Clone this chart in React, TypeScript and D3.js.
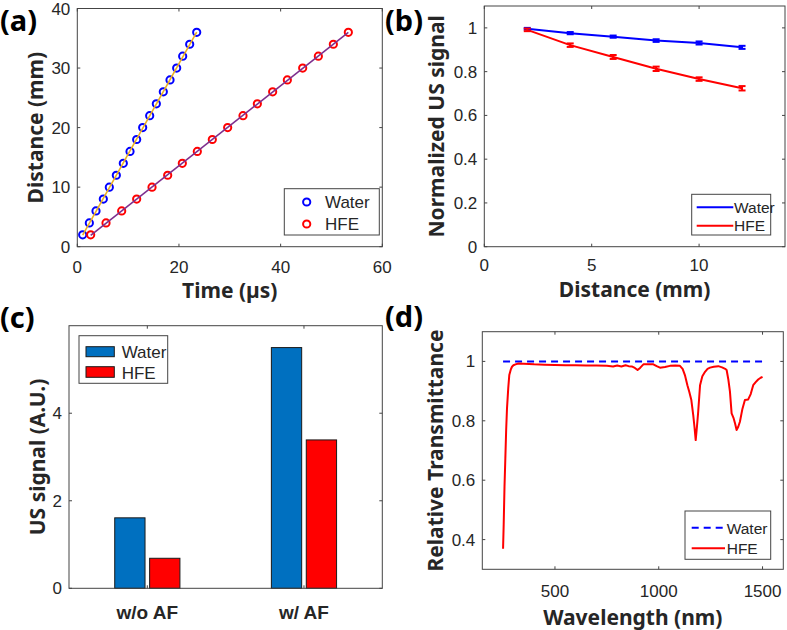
import React from "react";
import * as d3 from "d3";

// ---------- (a) time of flight ----------
const distA = [2, 4, 6, 8, 10, 12, 14, 16, 18, 20, 22, 24, 26, 28, 30, 32, 34, 36];
const waterTime = [1.06, 2.37, 3.68, 5.12, 6.3, 7.68, 9.05, 10.37, 11.68, 12.86, 14.24, 15.55, 16.92, 18.24, 19.55, 20.73, 22.11, 23.49];
const hfeTime = [2.63, 5.65, 8.73, 11.68, 14.7, 17.78, 20.66, 23.61, 26.56, 29.58, 32.6, 35.42, 38.43, 41.32, 44.34, 47.42, 50.37, 53.32];
const ticksAx = [0, 20, 40, 60];
const ticksAy = [0, 10, 20, 30, 40];

// ---------- (b) normalized signal ----------
const distB = [2, 4, 6, 8, 10, 12];
const waterNorm = [0.996, 0.976, 0.96, 0.942, 0.931, 0.911];
const waterErr = [0.004, 0.005, 0.005, 0.006, 0.007, 0.007];
const hfeNorm = [0.991, 0.921, 0.867, 0.813, 0.766, 0.724];
const hfeErr = [0.006, 0.008, 0.009, 0.01, 0.008, 0.01];
const ticksBx = [0, 5, 10];
const ticksBy = [0, 0.2, 0.4, 0.6, 0.8, 1];

// ---------- (c) bars ----------
const categoriesC = ["w/o AF", "w/ AF"];
const waterBar = [1.61, 5.5];
const hfeBar = [0.686, 3.39];
const ticksCy = [0, 2, 4];

// ---------- (d) transmittance ----------
const waterWl = [250, 1500];
const waterT = [1, 1];
const hfeSpectrum: [number, number][] = [
  [250, 0.369], [253, 0.45], [257, 0.58], [261, 0.674], [265, 0.77], [269, 0.842], [275, 0.91],
  [280, 0.954], [287, 0.972], [293, 0.982], [300, 0.987], [310, 0.99], [325, 0.993], [350, 0.992],
  [400, 0.99], [450, 0.989], [500, 0.988], [550, 0.987], [600, 0.987], [650, 0.986], [700, 0.986],
  [750, 0.985], [780, 0.983], [800, 0.986], [820, 0.983], [840, 0.987], [855, 0.984], [870, 0.983],
  [885, 0.978], [898, 0.971], [910, 0.978], [926, 0.99], [950, 0.99], [974, 0.99], [990, 0.984],
  [1006, 0.979], [1030, 0.981], [1054, 0.985], [1080, 0.986], [1102, 0.985], [1115, 0.975],
  [1126, 0.954], [1138, 0.92], [1147, 0.898], [1157, 0.87], [1166, 0.82], [1172, 0.78],
  [1178, 0.735], [1184, 0.78], [1190, 0.83], [1195, 0.88], [1199, 0.92], [1210, 0.95],
  [1223, 0.965], [1235, 0.975], [1247, 0.979], [1265, 0.982], [1287, 0.984], [1305, 0.98],
  [1320, 0.975], [1327, 0.971], [1335, 0.94], [1343, 0.898], [1351, 0.825], [1360, 0.81],
  [1368, 0.79], [1375, 0.769], [1383, 0.78], [1391, 0.797], [1403, 0.84], [1415, 0.87],
  [1423, 0.871], [1431, 0.872], [1443, 0.89], [1455, 0.92], [1467, 0.93], [1479, 0.939],
  [1491, 0.945], [1500, 0.948],
];
const ticksDx = [500, 1000, 1500];
const ticksDy = [0.4, 0.6, 0.8, 1];

const TICK_FONT = "'Liberation Sans', Arial, sans-serif";
const BOLD_FONT = "'Noto Sans', 'Liberation Sans', sans-serif";
const AX = "#444";
const TXT = "#262626";
const TICK_SIZE = 17;

type Box = { x0: number; x1: number; y0: number; y1: number };

function Frame({ b, xs, ys, xt, yt, fmtY, xOff = 25 }: { b: Box; xs: any; ys: any; xt: number[]; yt: number[]; fmtY?: (v: number) => string; xOff?: number }) {
  const tl = 3;
  return (
    <g>
      <rect x={b.x0} y={b.y0} width={b.x1 - b.x0} height={b.y1 - b.y0} fill="none" stroke={AX} strokeWidth={1} />
      {xt.map((t) => (
        <g key={"x" + t}>
          <line x1={xs(t)} x2={xs(t)} y1={b.y1} y2={b.y1 - tl} stroke={AX} />
          <line x1={xs(t)} x2={xs(t)} y1={b.y0} y2={b.y0 + tl} stroke={AX} />
          <text x={xs(t)} y={b.y1 + xOff} textAnchor="middle" fontFamily={TICK_FONT} fontSize={TICK_SIZE} fill={TXT}>{t}</text>
        </g>
      ))}
      {yt.map((t) => (
        <g key={"y" + t}>
          <line x1={b.x0} x2={b.x0 + tl} y1={ys(t)} y2={ys(t)} stroke={AX} />
          <line x1={b.x1} x2={b.x1 - tl} y1={ys(t)} y2={ys(t)} stroke={AX} />
          <text x={b.x0 - 7} y={ys(t) + 6} textAnchor="end" fontFamily={TICK_FONT} fontSize={TICK_SIZE} fill={TXT}>{fmtY ? fmtY(t) : t}</text>
        </g>
      ))}
    </g>
  );
}

function YLabel({ x, y, text }: { x: number; y: number; text: string }) {
  return (
    <text transform={`translate(${x},${y}) rotate(-90)`} textAnchor="middle" dominantBaseline="central" fontFamily={BOLD_FONT} fontWeight="bold" fontSize={21} fill={TXT}>{text}</text>
  );
}
function XLabel({ x, y, text }: { x: number; y: number; text: string }) {
  return (
    <text x={x} y={y} textAnchor="middle" fontFamily={BOLD_FONT} fontWeight="bold" fontSize={21} fill={TXT}>{text}</text>
  );
}
function PanelLabel({ x, y, text }: { x: number; y: number; text: string }) {
  return (
    <text x={x} y={y} fontFamily={BOLD_FONT} fontWeight="bold" fontSize={29} fill="#000">{text}</text>
  );
}

function fit(xs: number[], ys: number[]) {
  const mx = d3.mean(xs)!, my = d3.mean(ys)!;
  let num = 0, den = 0;
  xs.forEach((x, i) => { num += (x - mx) * (ys[i] - my); den += (x - mx) * (x - mx); });
  const k = num / den;
  return (x: number) => my + k * (x - mx);
}

export default function App() {
  // panel a
  const bA: Box = { x0: 77.3, x1: 382.3, y0: 8.5, y1: 246.7 };
  const xA = d3.scaleLinear().domain([0, 60]).range([bA.x0, bA.x1]);
  const yA = d3.scaleLinear().domain([0, 40]).range([bA.y1, bA.y0]);
  const fW = fit(waterTime, distA);
  const fH = fit(hfeTime, distA);
  const tW = d3.extent(waterTime) as [number, number];
  const tH = d3.extent(hfeTime) as [number, number];

  // panel b
  const bB: Box = { x0: 484.3, x1: 785, y0: 6, y1: 246.7 };
  const xB = d3.scaleLinear().domain([0, 14]).range([bB.x0, bB.x1]);
  const yB = d3.scaleLinear().domain([0, 1.1]).range([bB.y1, bB.y0]);
  const lineB = d3.line<number>().x((_, i) => xB(distB[i]));

  // panel c
  const bC: Box = { x0: 69, x1: 382.3, y0: 325.7, y1: 588.3 };
  const xC = d3.scaleLinear().domain([0.5, 2.5]).range([bC.x0, bC.x1]);
  const yC = d3.scaleLinear().domain([0, 6]).range([bC.y1, bC.y0]);
  const barW = 30.3, gap = 4.6;

  // panel d
  const bD: Box = { x0: 482.3, x1: 783.3, y0: 331.7, y1: 569.3 };
  const xD = d3.scaleLinear().domain([150, 1600]).range([bD.x0, bD.x1]);
  const yD = d3.scaleLinear().domain([0.3, 1.1]).range([bD.y1, bD.y0]);
  const lineD = d3.line<[number, number]>().x((d) => xD(d[0])).y((d) => yD(d[1]));

  const fmt1 = (v: number) => (v === 0 || v === 1 ? String(v) : v.toFixed(1));

  return (
    <svg width={787} height={630} style={{ position: "absolute", left: 0, top: 0, background: "#fff" }}>
      <rect width={787} height={630} fill="#fff" />
      {/* ---- (a) ---- */}
      <Frame b={bA} xs={xA} ys={yA} xt={ticksAx} yt={ticksAy} xOff={26} />
      {distA.map((d, i) => (
        <circle key={"wa" + i} cx={xA(waterTime[i])} cy={yA(d)} r={3.6} fill="none" stroke="#0000ff" strokeWidth={2} />
      ))}
      {distA.map((d, i) => (
        <circle key={"ha" + i} cx={xA(hfeTime[i])} cy={yA(d)} r={3.6} fill="none" stroke="#ff0000" strokeWidth={2} />
      ))}
      <line x1={xA(tW[0])} y1={yA(fW(tW[0]))} x2={xA(tW[1])} y2={yA(fW(tW[1]))} stroke="#EDB120" strokeWidth={1.6} />
      <line x1={xA(tH[0])} y1={yA(fH(tH[0]))} x2={xA(tH[1])} y2={yA(fH(tH[1]))} stroke="#7E2F8E" strokeWidth={1.6} />
      <rect x={284.3} y={188.7} width={95} height={46.3} fill="#fff" stroke={AX} />
      <circle cx={306.7} cy={202} r={3.6} fill="none" stroke="#0000ff" strokeWidth={2} />
      <circle cx={306.7} cy={224} r={3.6} fill="none" stroke="#ff0000" strokeWidth={2} />
      <text x={325} y={208} fontFamily={TICK_FONT} fontSize={17} fill={TXT}>Water</text>
      <text x={325} y={230} fontFamily={TICK_FONT} fontSize={17} fill={TXT}>HFE</text>
      <XLabel x={(bA.x0 + bA.x1) / 2} y={298} text="Time (µs)" />
      <YLabel x={35} y={(bA.y0 + bA.y1) / 2} text="Distance (mm)" />
      <PanelLabel x={0} y={31} text="(a)" />

      {/* ---- (b) ---- */}
      <Frame b={bB} xs={xB} ys={yB} xt={ticksBx} yt={ticksBy} fmtY={fmt1} xOff={24} />
      <path d={lineB.y((v) => yB(v))(waterNorm) || ""} fill="none" stroke="#0000ff" strokeWidth={2} />
      <path d={lineB.y((v) => yB(v))(hfeNorm) || ""} fill="none" stroke="#ff0000" strokeWidth={2} />
      {[{ v: waterNorm, e: waterErr, c: "#0000ff" }, { v: hfeNorm, e: hfeErr, c: "#ff0000" }].map((s, si) =>
        s.v.map((v, i) => {
          const x = xB(distB[i]);
          const top = yB(v + s.e[i]), bot = yB(v - s.e[i]);
          return (
            <g key={"eb" + si + i} stroke={s.c} strokeWidth={2}>
              <line x1={x} x2={x} y1={top} y2={bot} />
              <line x1={x - 3.5} x2={x + 3.5} y1={top} y2={top} />
              <line x1={x - 3.5} x2={x + 3.5} y1={bot} y2={bot} />
            </g>
          );
        })
      )}
      <rect x={691.7} y={194.3} width={79} height={40.7} fill="#fff" stroke={AX} />
      <line x1={696.7} x2={733.3} y1={207.3} y2={207.3} stroke="#0000ff" strokeWidth={2} />
      <line x1={696.7} x2={733.3} y1={225.7} y2={225.7} stroke="#ff0000" strokeWidth={2} />
      <text x={734} y={213} fontFamily={TICK_FONT} fontSize={15.5} fill={TXT}>Water</text>
      <text x={734} y={231} fontFamily={TICK_FONT} fontSize={15.5} fill={TXT}>HFE</text>
      <XLabel x={(bB.x0 + bB.x1) / 2} y={297} text="Distance (mm)" />
      <YLabel x={436} y={(bB.y0 + bB.y1) / 2} text="Normalized US signal" />
      <PanelLabel x={385} y={31} text="(b)" />

      {/* ---- (c) ---- */}
      {categoriesC.map((c, i) => {
        const cx = xC(i + 1);
        return (
          <g key={"bar" + i}>
            <rect x={cx - gap / 2 - barW} y={yC(waterBar[i])} width={barW} height={yC(0) - yC(waterBar[i])} fill="#0070C0" stroke="#1a1a1a" strokeWidth={1} />
            <rect x={cx + gap / 2} y={yC(hfeBar[i])} width={barW} height={yC(0) - yC(hfeBar[i])} fill="#ff0000" stroke="#1a1a1a" strokeWidth={1} />
          </g>
        );
      })}
      <rect x={bC.x0} y={bC.y0} width={bC.x1 - bC.x0} height={bC.y1 - bC.y0} fill="none" stroke={AX} />
      {categoriesC.map((c, i) => (
        <g key={"ct" + i}>
          <line x1={xC(i + 1)} x2={xC(i + 1)} y1={bC.y1} y2={bC.y1 - 3} stroke={AX} />
          <line x1={xC(i + 1)} x2={xC(i + 1)} y1={bC.y0} y2={bC.y0 + 3} stroke={AX} />
          <text x={xC(i + 1)} y={619} textAnchor="middle" fontFamily={TICK_FONT} fontWeight="bold" fontSize={19} fill={TXT}>{c}</text>
        </g>
      ))}
      {ticksCy.map((t) => (
        <g key={"cy" + t}>
          <line x1={bC.x0} x2={bC.x0 + 3} y1={yC(t)} y2={yC(t)} stroke={AX} />
          <line x1={bC.x1} x2={bC.x1 - 3} y1={yC(t)} y2={yC(t)} stroke={AX} />
          <text x={bC.x0 - 7} y={yC(t) + 6} textAnchor="end" fontFamily={TICK_FONT} fontSize={TICK_SIZE} fill={TXT}>{t}</text>
        </g>
      ))}
      <rect x={79} y={335.7} width={88.7} height={47.6} fill="#fff" stroke={AX} />
      <rect x={86} y={346.7} width={28.3} height={10} fill="#0070C0" stroke="#1a1a1a" />
      <rect x={86} y={366.7} width={28.3} height={10.6} fill="#ff0000" stroke="#1a1a1a" />
      <text x={121.7} y={358} fontFamily={TICK_FONT} fontSize={17} fill={TXT}>Water</text>
      <text x={121.7} y={378.5} fontFamily={TICK_FONT} fontSize={17} fill={TXT}>HFE</text>
      <YLabel x={37} y={(bC.y0 + bC.y1) / 2} text="US signal (A.U.)" />
      <PanelLabel x={0} y={328} text="(c)" />

      {/* ---- (d) ---- */}
      <Frame b={bD} xs={xD} ys={yD} xt={ticksDx} yt={ticksDy} fmtY={fmt1} xOff={28} />
      <line x1={xD(waterWl[0])} x2={xD(waterWl[1])} y1={yD(waterT[0])} y2={yD(waterT[1])} stroke="#0000ff" strokeWidth={2} strokeDasharray="7,5" />
      <path d={lineD(hfeSpectrum) || ""} fill="none" stroke="#ff0000" strokeWidth={2} strokeLinejoin="round" />
      <rect x={685} y={511} width={85.7} height={48.3} fill="#fff" stroke={AX} />
      <line x1={691.7} x2={725} y1={527.7} y2={527.7} stroke="#0000ff" strokeWidth={2} strokeDasharray="7,5" />
      <line x1={691.7} x2={725} y1={548.3} y2={548.3} stroke="#ff0000" strokeWidth={2} />
      <text x={726.7} y={533.5} fontFamily={TICK_FONT} fontSize={15.5} fill={TXT}>Water</text>
      <text x={726.7} y={554} fontFamily={TICK_FONT} fontSize={15.5} fill={TXT}>HFE</text>
      <XLabel x={(bD.x0 + bD.x1) / 2} y={625} text="Wavelength (nm)" />
      <YLabel x={435} y={(bD.y0 + bD.y1) / 2} text="Relative Transmittance" />
      <PanelLabel x={385} y={327} text="(d)" />
    </svg>
  );
}
